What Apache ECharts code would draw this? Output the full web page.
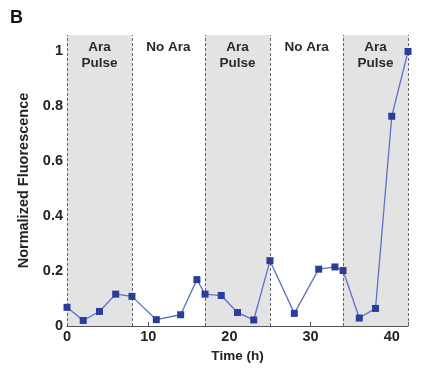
<!DOCTYPE html>
<html><head><meta charset="utf-8">
<script src="https://cdn.jsdelivr.net/npm/echarts@6/dist/echarts.min.js"></script>
<style>html,body{margin:0;padding:0;background:#fff}#c{width:430px;height:373px}</style>
</head><body><div id="c"></div>
<script>
const timeH = [0, 2, 4, 6, 8, 11, 14, 16, 17, 19, 21, 23, 25, 28, 31, 33, 34, 36, 38, 40, 42];
const fluorescence = [0.068, 0.02, 0.053, 0.116, 0.108, 0.023, 0.041, 0.169, 0.116, 0.111, 0.049, 0.022, 0.238, 0.046, 0.207, 0.215, 0.202, 0.029, 0.064, 0.764, 1.0];
const phaseBounds = [[0, 8], [8, 17], [17, 25], [25, 34], [34, 42]];
const phaseLabels = ['Ara\nPulse', 'No Ara', 'Ara\nPulse', 'No Ara', 'Ara\nPulse'];
const phaseShaded = [true, false, true, false, true];
const yTicks = [0, 0.2, 0.4, 0.6, 0.8, 1];
const xTicks = [0, 10, 20, 30, 40];
const dividers = [0, 8, 17, 25, 34, 42];

const FONT = 'Liberation Sans, Arial, sans-serif';
const YMAX = 1.06;
const chart = echarts.init(document.getElementById('c'), null, {renderer: 'canvas'});
const areas = phaseBounds.map((b, i) => [
  {xAxis: b[0], yAxis: 0, name: phaseLabels[i],
   itemStyle: {color: phaseShaded[i] ? '#e3e3e3' : 'rgba(0,0,0,0)'}},
  {xAxis: b[1], yAxis: YMAX}
]);
chart.setOption({
  animation: false,
  graphic: [{type: 'text', left: 10, top: 9, style: {text: 'B', font: 'bold 18px ' + FONT, fill: '#111'}}],
  grid: {left: 67, right: 22, top: 35, bottom: 47},
  xAxis: {
    type: 'value', min: 0, max: 42, interval: 10,
    name: 'Time (h)', nameLocation: 'middle', nameGap: 17,
    nameTextStyle: {fontFamily: FONT, fontWeight: 'bold', fontSize: 13.5, color: '#222'},
    axisLine: {show: true, lineStyle: {color: '#555', width: 1}},
    axisTick: {show: true, inside: true, length: 4, lineStyle: {color: '#555'}},
    axisLabel: {fontFamily: FONT, fontWeight: 'bold', fontSize: 14.5, color: '#222', margin: 3,
      formatter: v => xTicks.includes(v) ? String(v) : ''},
    splitLine: {show: false}
  },
  yAxis: {
    type: 'value', min: 0, max: YMAX, interval: 0.2,
    name: 'Normalized Fluorescence', nameLocation: 'middle', nameGap: 26,
    nameTextStyle: {fontFamily: FONT, fontWeight: 'bold', fontSize: 14.5, color: '#222'},
    axisLine: {show: false}, axisTick: {show: false},
    axisLabel: {fontFamily: FONT, fontWeight: 'bold', fontSize: 14.5, color: '#222', margin: 4,
      formatter: v => { const t = yTicks.find(y => Math.abs(y - v) < 1e-6); return t === undefined ? '' : String(t); }},
    splitLine: {show: false}
  },
  series: [{
    type: 'line',
    data: timeH.map((t, i) => [t, fluorescence[i]]),
    symbol: 'rect', symbolSize: 7,
    lineStyle: {color: '#5d70c4', width: 1.3},
    itemStyle: {color: '#2a3d9c'},
    z: 5,
    markArea: {
      silent: true,
      label: {show: true, position: 'insideTop', distance: 4, fontFamily: FONT, fontWeight: 'bold', fontSize: 13.5, color: '#2a2a2a', lineHeight: 16},
      data: areas
    },
    markLine: {
      silent: true, symbol: 'none',
      label: {show: false},
      lineStyle: {color: '#666', type: [3, 2], width: 1},
      data: dividers.map(d => ({xAxis: d}))
    }
  }]
});
</script></body></html>
